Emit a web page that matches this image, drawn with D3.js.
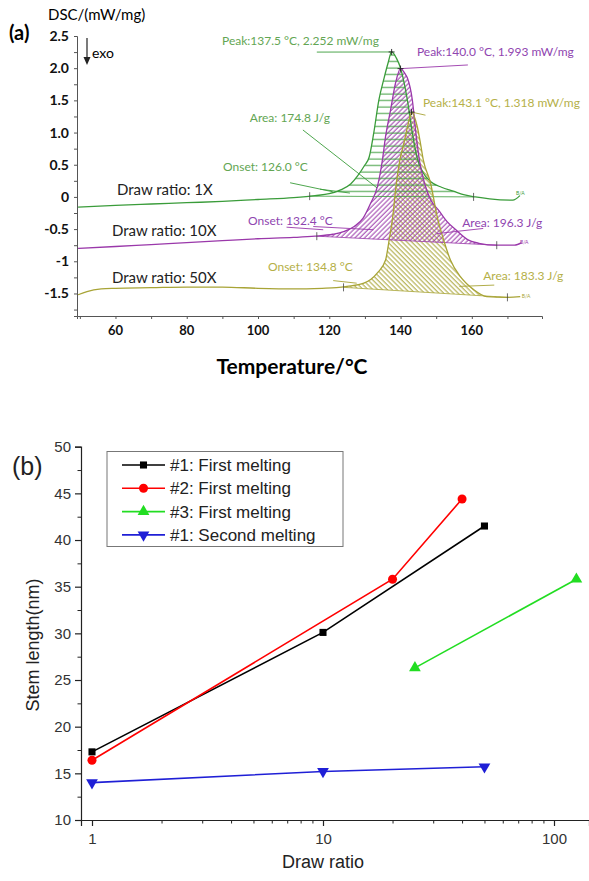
<!DOCTYPE html>
<html>
<head>
<meta charset="utf-8">
<script src="https://cdn.jsdelivr.net/npm/d3@7"></script>
<style>
  body { margin: 0; background: #fff; }
  svg { display: block; }
</style>
</head>
<body>
<svg id="chart" width="589" height="881"></svg>
<script>
// ---------- panel (a): DSC curves [T in degC, heat flow mW/mg]
const dsc1X = [[49.5,-0.16],[60,-0.13],[70,-0.11],[80,-0.09],[90,-0.07],[100,-0.04],[110,-0.01],[116,0.02],
  [120,0.05],[123.2,0.11],[126,0.2],[128,0.33],[129.8,0.48],[131.2,0.62],[132.5,1.0],[133.9,1.5],[135.4,1.85],
  [136.5,2.08],[137.5,2.252],[138.8,2.16],[140,2.0],[141.9,1.51],[143.3,1.0],[144.7,0.6],[146.3,0.38],[148.4,0.24],
  [151.5,0.15],[154.8,0.09],[158,0.03],[161,0.0],[165,-0.03],[171.5,-0.05],[173.5,0.02]];
const dsc10X = [[49.5,-0.8],[60,-0.77],[70,-0.74],[80,-0.71],[90,-0.68],[100,-0.65],[110,-0.63],[116,-0.61],
  [121,-0.58],[124,-0.54],[127,-0.46],[129.5,-0.33],[131.6,-0.1],[133.5,0.16],[134.9,0.57],[135.8,0.94],[137.2,1.35],
  [138.6,1.77],[140,1.993],[141.2,1.92],[141.9,1.85],[143.3,1.51],[144.3,1.0],[145.3,0.57],[146.8,0.2],[148.5,-0.05],
  [150.6,-0.2],[153,-0.38],[155.9,-0.53],[158.7,-0.66],[162,-0.72],[167,-0.75],[172,-0.75],[174,-0.71]];
const dsc50X = [[49.5,-1.52],[52,-1.47],[56,-1.43],[60,-1.42],[70,-1.41],[80,-1.4],[90,-1.4],[100,-1.42],[110,-1.43],
  [118,-1.42],[122,-1.41],[125,-1.39],[129.7,-1.34],[133.5,-1.18],[135.8,-0.98],[136.8,-0.67],[137.8,-0.31],[138.8,0.2],
  [139.8,0.57],[141,0.85],[142,1.1],[143.1,1.318],[144.7,1.09],[145.6,0.83],[146.4,0.57],[148.4,0.22],[150.3,-0.31],
  [152.1,-0.67],[154,-0.98],[156.8,-1.24],[160.5,-1.44],[164.2,-1.55],[169.8,-1.56],[173.6,-1.55]];
// integration limits: [T start, value start, T end, value end]
const limits1X = [114.5, 0.012, 160.5, 0.0];
const limits10X = [116.5, -0.61, 167, -0.75];
const limits50X = [124, -1.405, 170, -1.56];

const dscTicksY = [2.5, 2.0, 1.5, 1.0, 0.5, 0, -0.5, -1, -1.5];
const dscTickLabelsY = ["2.5", "2.0", "1.5", "1.0", "0.5", "0", "-0.5", "-1", "-1.5"];
const dscTicksX = [60, 80, 100, 120, 140, 160];

const sampleNames = ["Draw ratio: 1X", "Draw ratio: 10X", "Draw ratio: 50X"];
const peakTexts = ["Peak:137.5 \u00B0C, 2.252 mW/mg", "Peak:140.0 \u00B0C, 1.993 mW/mg", "Peak:143.1 \u00B0C, 1.318 mW/mg"];
const onsetTexts = ["Onset: 126.0 \u00B0C", "Onset: 132.4 \u00B0C", "Onset: 134.8 \u00B0C"];
const areaTexts = ["Area: 174.8 J/g", "Area: 196.3 J/g", "Area: 183.3 J/g"];

// ---------- panel (b): stem length vs draw ratio
const ratio1First = [1, 10, 50];
const stem1First = [17.3, 30.1, 41.5];
const ratio2First = [1, 20, 40];
const stem2First = [16.4, 35.8, 44.4];
const ratio3First = [25, 125];
const stem3First = [26.3, 35.8];
const ratio1Second = [1, 10, 50];
const stem1Second = [14.0, 15.2, 15.7];
const seriesNames = ["#1: First melting", "#2: First melting", "#3: First melting", "#1: Second melting"];

const svg = d3.select("#chart");

// ======================= panel (a) =======================
const cGreen = "#3a9c3a", cPurple = "#9a38aa", cOlive = "#a8a436";
const tGreen = "#63a653", tPurple = "#8f45b0", tOlive = "#b5b048";

const xA = d3.scaleLinear().domain([49.2, 179.7]).range([77, 542]);
const yA = d3.scaleLinear().domain([-1.85, 2.5]).range([316, 36]);

const defs = svg.append("defs");
defs.append("pattern").attr("id", "hatchH").attr("patternUnits", "userSpaceOnUse")
  .attr("width", 8).attr("height", 6.5)
  .append("line").attr("x1", 0).attr("x2", 8).attr("y1", 3).attr("y2", 3)
  .attr("stroke", cGreen).attr("stroke-width", 1);
defs.append("pattern").attr("id", "hatchP").attr("patternUnits", "userSpaceOnUse")
  .attr("width", 3.4).attr("height", 8).attr("patternTransform", "rotate(45)")
  .append("line").attr("x1", 1).attr("x2", 1).attr("y1", 0).attr("y2", 8)
  .attr("stroke", cPurple).attr("stroke-width", 1);
defs.append("pattern").attr("id", "hatchO").attr("patternUnits", "userSpaceOnUse")
  .attr("width", 3.4).attr("height", 8).attr("patternTransform", "rotate(-45)")
  .append("line").attr("x1", 1).attr("x2", 1).attr("y1", 0).attr("y2", 8)
  .attr("stroke", cOlive).attr("stroke-width", 1);

const gA = svg.append("g").attr("class", "panel-a");

// axes
const axA_y = d3.axisLeft(yA).tickValues(d3.range(-1.75, 2.51, 0.25)).tickSize(3).tickFormat("");
gA.append("g").attr("transform", "translate(77,0)").call(axA_y)
  .call(g => g.selectAll("path,line").attr("stroke", "#555"));
const axA_x = d3.axisBottom(xA).tickValues(d3.range(50, 171, 10)).tickSize(3).tickFormat("");
gA.append("g").attr("transform", "translate(0,316)").call(axA_x)
  .call(g => g.selectAll("path,line").attr("stroke", "#555"));

gA.selectAll("text.ytl").data(dscTicksY).join("text")
  .attr("x", 69).attr("y", d => yA(d) + 5)
  .attr("text-anchor", "end").attr("font-family", "Lato").attr("font-weight", "bold")
  .attr("font-size", 14).attr("fill", "#111")
  .text((d, i) => dscTickLabelsY[i]);
gA.selectAll("text.xtl").data(dscTicksX).join("text")
  .attr("x", d => xA(d)).attr("y", 335)
  .attr("text-anchor", "middle").attr("font-family", "Lato").attr("font-weight", "bold")
  .attr("font-size", 13).attr("fill", "#111")
  .text(d => d);

gA.append("text").attr("x", 292).attr("y", 374).attr("text-anchor", "middle")
  .attr("font-family", "Lato").attr("font-weight", "bold").attr("font-size", 21)
  .text("Temperature/\u00B0C");
gA.append("text").attr("x", 48).attr("y", 20).attr("font-family", "Lato").attr("font-size", 15)
  .text("DSC/(mW/mg)");
gA.append("text").attr("x", 9).attr("y", 40).attr("font-family", "Lato").attr("font-weight", "bold")
  .attr("font-size", 20).text("(a)");

// exo arrow
gA.append("line").attr("x1", 87).attr("x2", 87).attr("y1", 38).attr("y2", 58)
  .attr("stroke", "#222").attr("stroke-width", 1.2);
gA.append("path").attr("d", "M83.5,57 L90.5,57 L87,65 Z").attr("fill", "#222");
gA.append("text").attr("x", 92).attr("y", 58).attr("font-family", "Lato").attr("font-size", 14)
  .text("exo");

const lineA = d3.line().x(d => xA(d[0])).y(d => yA(d[1])).curve(d3.curveMonotoneX);

function filledArea(points, lim) {
  const [ta, va, tb, vb] = lim;
  const base = t => va + (vb - va) * (t - ta) / (tb - ta);
  const inner = points.filter(d => d[0] > ta && d[0] < tb);
  const pts = [[ta, va], ...inner, [tb, vb]];
  return d3.area().x(d => xA(d[0])).y0(d => yA(base(d[0]))).y1(d => yA(d[1]))
    .curve(d3.curveMonotoneX)(pts);
}

const curves = [
  { data: dsc1X, lim: limits1X, color: cGreen, fill: "url(#hatchH)" },
  { data: dsc10X, lim: limits10X, color: cPurple, fill: "url(#hatchP)" },
  { data: dsc50X, lim: limits50X, color: cOlive, fill: "url(#hatchO)" }
];

// fills first, so that overlapping hatches cross
curves.slice().reverse().forEach(c => {
  gA.append("path").attr("d", filledArea(c.data, c.lim)).attr("fill", c.fill);
});
curves.forEach(c => {
  const [ta, va, tb, vb] = c.lim;
  // integration baseline
  gA.append("line").attr("x1", xA(ta)).attr("y1", yA(va)).attr("x2", xA(tb)).attr("y2", yA(vb))
    .attr("stroke", c.color).attr("stroke-width", 0.8);
  gA.append("path").attr("d", lineA(c.data)).attr("fill", "none")
    .attr("stroke", c.color).attr("stroke-width", 1.3);
  // limit ticks
  [[ta, va], [tb, vb]].forEach(p => {
    gA.append("line").attr("x1", xA(p[0])).attr("x2", xA(p[0]))
      .attr("y1", yA(p[1]) - 4).attr("y2", yA(p[1]) + 4).attr("stroke", "#444").attr("stroke-width", 0.8);
  });
});

// construction / leader lines [[T1,v1],[T2,v2], color]
const leaders = [
  [[116.5, 2.25], [137.5, 2.252], cGreen],
  [[140, 1.993], [158.9, 2.05], cPurple],
  [[143.1, 1.318], [147, 1.27], cOlive],
  [[112.6, 1.04], [133.4, 0.14], cGreen],
  [[109, 0.22], [121, 0.08], cGreen],
  [[117.4, 0.12], [125.8, 0.06], cGreen],
  [[108, -0.47], [118.3, -0.51], cPurple],
  [[115.5, -0.46], [132.4, -0.51], cPurple],
  [[150.2, -0.57], [163.2, -0.49], cPurple],
  [[121.1, -1.3], [127.7, -1.34], cOlive],
  [[156.5, -1.39], [166.3, -1.37], cOlive]
];
gA.selectAll("line.leader").data(leaders).join("line").attr("class", "leader")
  .attr("x1", d => xA(d[0][0])).attr("y1", d => yA(d[0][1]))
  .attr("x2", d => xA(d[1][0])).attr("y2", d => yA(d[1][1]))
  .attr("stroke", d => d[2]).attr("stroke-width", 0.9);

// peak crosses
[[137.5, 2.252], [140, 1.993], [143.1, 1.318]].forEach(p => {
  gA.append("path").attr("d", `M${xA(p[0]) - 3},${yA(p[1])}h6M${xA(p[0])},${yA(p[1]) - 3}v6`)
    .attr("stroke", "#222").attr("stroke-width", 0.9);
});

// annotation texts, anchored in data units [T, v]
const labelPos = [
  [peakTexts[0], 89.9, 2.42, tGreen], [areaTexts[0], 97.7, 1.23, tGreen], [onsetTexts[0], 90.2, 0.47, tGreen],
  [peakTexts[1], 144.6, 2.25, tPurple], [onsetTexts[1], 97.2, -0.37, tPurple], [areaTexts[1], 157.3, -0.40, tPurple],
  [peakTexts[2], 146.3, 1.46, tOlive], [onsetTexts[2], 102.8, -1.09, tOlive], [areaTexts[2], 163.2, -1.23, tOlive]
];
gA.selectAll("text.ann").data(labelPos).join("text").attr("class", "ann")
  .attr("x", d => xA(d[1])).attr("y", d => yA(d[2]) + 4)
  .attr("font-family", "Lato").attr("font-size", 12).attr("fill", d => d[3])
  .text(d => d[0]);

const namePos = [[60.4, 0.11], [59, -0.53], [59, -1.26]];
gA.selectAll("text.sname").data(sampleNames).join("text").attr("class", "sname")
  .attr("x", (d, i) => xA(namePos[i][0])).attr("y", (d, i) => yA(namePos[i][1]) + 5)
  .attr("font-family", "Lato").attr("font-size", 15).attr("fill", "#222")
  .text(d => d);

[[172.4, 0.06, cGreen], [173.5, -0.7, cPurple], [174, -1.54, cOlive]].forEach(p => {
  gA.append("text").attr("x", xA(p[0])).attr("y", yA(p[1]) + 2)
    .attr("font-family", "Lato").attr("font-size", 5).attr("fill", p[2]).text("B/A");
});

// ======================= panel (b) =======================
const gB = svg.append("g").attr("class", "panel-b");
const xB = d3.scaleLog().domain([1, 100]).range([92, 554]);
xB.domain([xB.invert(81), xB.invert(589)]).range([81, 589]);
const yB = d3.scaleLinear().domain([10, 50]).range([820, 446.7]);

const majorX = [1, 10, 100];
const minorX = [2, 3, 4, 5, 6, 7, 8, 9, 20, 30, 40, 50, 60, 70, 80, 90];
gB.append("g").attr("transform", "translate(0,820)")
  .call(d3.axisBottom(xB).tickValues(majorX).tickSize(6).tickFormat(d => d))
  .call(g => g.selectAll("path,line").attr("stroke", "#222").attr("stroke-width", 1.2))
  .call(g => g.selectAll("text").attr("font-family", "Liberation Sans").attr("font-size", 15)
    .attr("fill", "#333").attr("dy", "1.0em"));
gB.append("g").attr("transform", "translate(0,820)")
  .call(d3.axisBottom(xB).tickValues(minorX).tickSize(3.5).tickFormat(""))
  .call(g => g.select("path").remove())
  .call(g => g.selectAll("line").attr("stroke", "#222"));

gB.append("g").attr("transform", "translate(81,0)")
  .call(d3.axisLeft(yB).tickValues(d3.range(10, 51, 5)).tickSize(6).tickPadding(4))
  .call(g => g.selectAll("path,line").attr("stroke", "#222").attr("stroke-width", 1.2))
  .call(g => g.selectAll("text").attr("font-family", "Liberation Sans").attr("font-size", 15).attr("fill", "#333"));
gB.append("g").attr("transform", "translate(81,0)")
  .call(d3.axisLeft(yB).tickValues(d3.range(12.5, 50, 5)).tickSize(3.5).tickFormat(""))
  .call(g => g.select("path").remove())
  .call(g => g.selectAll("line").attr("stroke", "#222"));

gB.append("text").attr("x", 323).attr("y", 868).attr("text-anchor", "middle")
  .attr("font-family", "Liberation Sans").attr("font-size", 18).attr("fill", "#222").text("Draw ratio");
gB.append("text").attr("transform", "translate(39,645) rotate(-90)").attr("text-anchor", "middle")
  .attr("font-family", "Liberation Sans").attr("font-size", 18).attr("fill", "#222").text("Stem length(nm)");
gB.append("text").attr("x", 12).attr("y", 475).attr("font-family", "Liberation Sans")
  .attr("font-size", 25).attr("fill", "#222").text("(b)");

const seriesB = [
  { x: ratio1First, y: stem1First, color: "#000000", marker: d3.symbolSquare, size: 50, rot: 0 },
  { x: ratio2First, y: stem2First, color: "#ff0000", marker: d3.symbolCircle, size: 64, rot: 0 },
  { x: ratio3First, y: stem3First, color: "#22dd22", marker: d3.symbolTriangle, size: 60, rot: 0 },
  { x: ratio1Second, y: stem1Second, color: "#1f1fd6", marker: d3.symbolTriangle, size: 60, rot: 180 }
];
const lineB = d3.line().x(d => xB(d[0])).y(d => yB(d[1]));
seriesB.forEach(s => {
  const pts = s.x.map((v, i) => [v, s.y[i]]);
  gB.append("path").attr("d", lineB(pts)).attr("fill", "none")
    .attr("stroke", s.color).attr("stroke-width", 1.6);
  gB.selectAll(null).data(pts).join("path")
    .attr("transform", d => `translate(${xB(d[0])},${yB(d[1])}) rotate(${s.rot})`)
    .attr("d", d3.symbol().type(s.marker).size(s.size)).attr("fill", s.color);
});

// legend
const leg = gB.append("g").attr("transform", "translate(107,451.5)");
leg.append("rect").attr("width", 236).attr("height", 95).attr("fill", "#fff")
  .attr("stroke", "#777").attr("stroke-width", 1);
seriesB.forEach((s, i) => {
  const yy = 13.5 + i * 23.3;
  leg.append("line").attr("x1", 15).attr("x2", 58).attr("y1", yy).attr("y2", yy)
    .attr("stroke", s.color).attr("stroke-width", 1.6);
  leg.append("path").attr("transform", `translate(36.5,${yy}) rotate(${s.rot})`)
    .attr("d", d3.symbol().type(s.marker).size(s.size)).attr("fill", s.color);
  leg.append("text").attr("x", 63).attr("y", yy + 6).attr("font-family", "Liberation Sans")
    .attr("font-size", 17).attr("fill", "#222").text(seriesNames[i]);
});
</script>
</body>
</html>
